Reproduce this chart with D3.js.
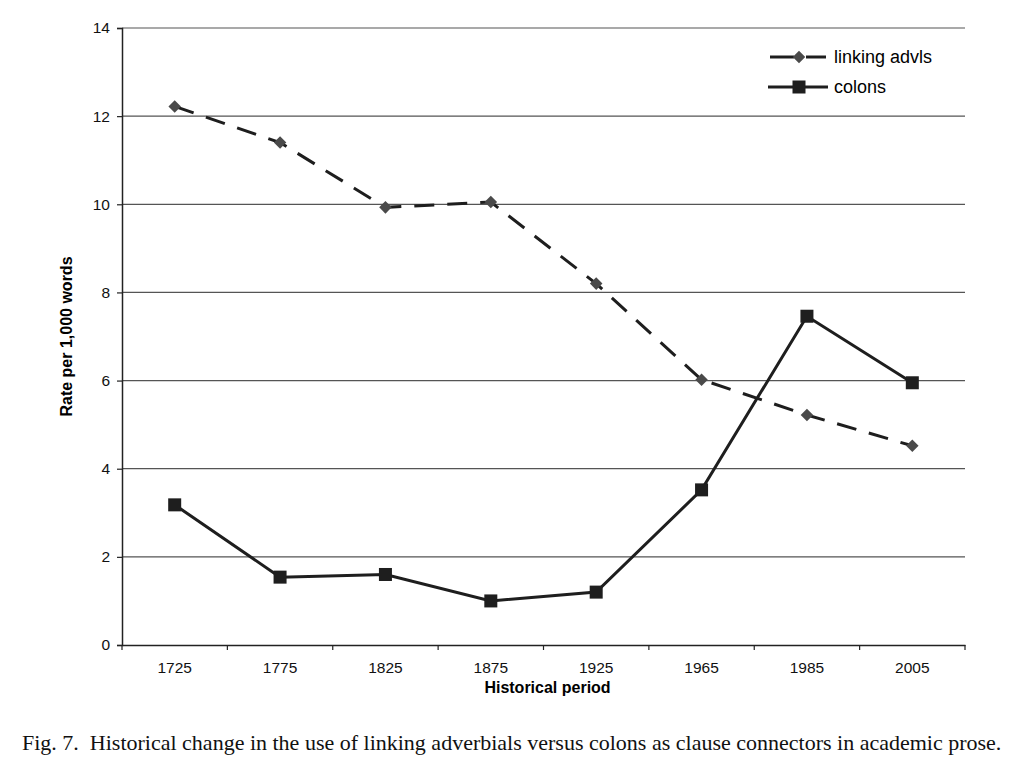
<!DOCTYPE html>
<html>
<head>
<meta charset="utf-8">
<script src="https://cdn.jsdelivr.net/npm/d3@7"></script>
<style>
  body { margin: 0; background: #fff; }
  svg { display: block; }
</style>
</head>
<body>
<svg id="chart" width="1016" height="770"></svg>
<script>
// data
var periods = ["1725", "1775", "1825", "1875", "1925", "1965", "1985", "2005"];
var linkingAdvls = [12.22, 11.4, 9.93, 10.05, 8.2, 6.02, 5.22, 4.52];
var colons = [3.18, 1.54, 1.6, 1.0, 1.2, 3.52, 7.46, 5.95];
var yTicks = [0, 2, 4, 6, 8, 10, 12, 14];

var svg = d3.select("#chart");
var margin = {top: 28, left: 122, right: 51, bottom: 125},
    width = 1016 - margin.left - margin.right,
    height = 770 - margin.top - margin.bottom;
var sans = "'Liberation Sans', Arial, sans-serif";

var g = svg.append("g").attr("transform", "translate(" + margin.left + "," + margin.top + ")");

var x = d3.scaleBand().domain(periods).range([0, width]);
var y = d3.scaleLinear().domain([0, 14]).range([height, 0]);

// gridlines
g.selectAll(".grid")
  .data(yTicks.filter(function(d){ return d > 0; }))
  .enter().append("line")
    .attr("class", "grid")
    .attr("x1", 0).attr("x2", width)
    .attr("y1", function(d){ return y(d); })
    .attr("y2", function(d){ return y(d); })
    .style("stroke", "#555")
    .style("stroke-width", 1.2);

// y axis
var yAxis = g.append("g")
  .call(d3.axisLeft(y).tickValues(yTicks).tickSize(5).tickPadding(7));
yAxis.select(".domain").style("stroke", "#222").style("stroke-width", 1.5);
yAxis.selectAll(".tick line").style("stroke", "#222").style("stroke-width", 1.2);
yAxis.selectAll("text").style("font-family", sans).style("font-size", "15.5px").style("fill", "#111");

// x axis, ticks at band boundaries
var xAxis = g.append("g")
  .attr("transform", "translate(0," + height + ")")
  .call(d3.axisBottom(x).tickSize(0).tickPadding(17));
xAxis.select(".domain").style("stroke", "#222").style("stroke-width", 1.5);
xAxis.selectAll("text").style("font-family", sans).style("font-size", "15.5px").style("fill", "#111");
g.selectAll(".xtick")
  .data(d3.range(periods.length + 1))
  .enter().append("line")
    .attr("x1", function(i){ return i * x.step(); })
    .attr("x2", function(i){ return i * x.step(); })
    .attr("y1", height).attr("y2", height + 5)
    .style("stroke", "#222").style("stroke-width", 1.2);

// axis titles
g.append("text")
  .attr("x", width / 2 + 4).attr("y", height + 48)
  .attr("text-anchor", "middle")
  .style("font-family", sans).style("font-weight", "bold").style("font-size", "16px")
  .text("Historical period");
g.append("text")
  .attr("transform", "translate(-50," + (height / 2) + ") rotate(-90)")
  .attr("text-anchor", "middle")
  .style("font-family", sans).style("font-weight", "bold").style("font-size", "16px")
  .text("Rate per 1,000 words");

var cx = function(d, i){ return x(periods[i]) + x.bandwidth() / 2; };
var line = d3.line().x(cx).y(function(d){ return y(d); });

// linking adverbials, dashed with diamonds
g.append("path")
  .attr("d", line(linkingAdvls))
  .style("fill", "none").style("stroke", "#1e1e1e")
  .style("stroke-width", 3).style("stroke-dasharray", "20,13");
g.selectAll(".diamond")
  .data(linkingAdvls)
  .enter().append("path")
    .attr("d", d3.symbol().type(d3.symbolDiamond2).size(100))
    .attr("transform", function(d, i){ return "translate(" + cx(d, i) + "," + y(d) + ")"; })
    .style("fill", "#4a4a4a");

// colons, solid with squares
g.append("path")
  .attr("d", line(colons))
  .style("fill", "none").style("stroke", "#1e1e1e").style("stroke-width", 3);
g.selectAll(".square")
  .data(colons)
  .enter().append("rect")
    .attr("x", function(d, i){ return cx(d, i) - 6.5; })
    .attr("y", function(d){ return y(d) - 6.5; })
    .attr("width", 13).attr("height", 13)
    .style("fill", "#1e1e1e");

// legend
var legend = svg.append("g").attr("transform", "translate(770,57)");
legend.append("line").attr("x1", 0).attr("x2", 24).attr("y1", 0).attr("y2", 0)
  .style("stroke", "#1e1e1e").style("stroke-width", 3);
legend.append("line").attr("x1", 36).attr("x2", 56).attr("y1", 0).attr("y2", 0)
  .style("stroke", "#1e1e1e").style("stroke-width", 3);
legend.append("path")
  .attr("d", d3.symbol().type(d3.symbolDiamond2).size(100))
  .attr("transform", "translate(29,0)")
  .style("fill", "#4a4a4a");
legend.append("text").attr("x", 64).attr("y", 6)
  .style("font-family", sans).style("font-size", "18px").text("linking advls");
legend.append("line").attr("x1", -2).attr("x2", 58).attr("y1", 30).attr("y2", 30)
  .style("stroke", "#1e1e1e").style("stroke-width", 3);
legend.append("rect").attr("x", 22.5).attr("y", 23.5).attr("width", 13).attr("height", 13)
  .style("fill", "#1e1e1e");
legend.append("text").attr("x", 64).attr("y", 36)
  .style("font-family", sans).style("font-size", "18px").text("colons");

// caption
svg.append("text")
  .attr("x", 22).attr("y", 750)
  .style("font-family", "'Liberation Serif', 'Times New Roman', serif")
  .style("font-size", "22px")
  .style("fill", "#111")
  .text("Fig. 7.\u00a0 Historical change in the use of linking adverbials versus colons as clause connectors in academic prose.");
</script>
</body>
</html>
